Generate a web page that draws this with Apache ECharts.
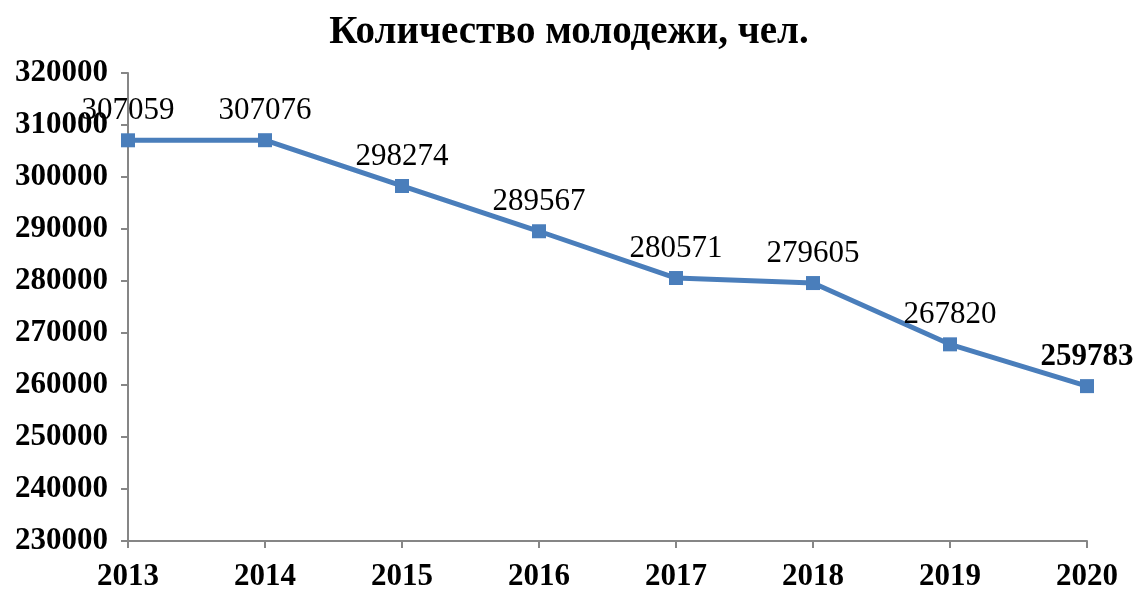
<!DOCTYPE html>
<html><head><meta charset="utf-8">
<script src="https://cdn.jsdelivr.net/npm/echarts@6/dist/echarts.min.js"></script>
<style>html,body{margin:0;padding:0;background:#fff}#c{width:1138px;height:592px}</style>
</head><body><div id="c"></div>
<script>
const years = ['2013','2014','2015','2016','2017','2018','2019','2020'];
const youth = [307059, 307076, 298274, 289567, 280571, 279605, 267820, 259783];
const yMin = 230000, yMax = 320000, yStep = 10000;
const titleText = 'Количество молодежи, чел.';
const serif = '"Liberation Serif", "Times New Roman", serif';
const chart = echarts.init(document.getElementById('c'), null, {renderer:'canvas'});
const lastIdx = youth.length - 1;
chart.setOption({
  animation:false,
  backgroundColor:'#fff',
  title:{text:titleText,left:'center',top:8,textStyle:{fontFamily:serif,fontSize:39,fontWeight:'bold',color:'#000'}},
  grid:{left:128,right:51,top:73,bottom:51,containLabel:false},
  xAxis:{type:'category',data:years,boundaryGap:false,
    axisLine:{lineStyle:{color:'#868686',width:2}},
    axisTick:{show:true,length:7,lineStyle:{color:'#868686',width:2},alignWithLabel:true},
    axisLabel:{fontFamily:serif,fontSize:31,fontWeight:'bold',color:'#000',margin:20}},
  yAxis:{type:'value',min:yMin,max:yMax,interval:yStep,
    axisLine:{show:true,lineStyle:{color:'#868686',width:2}},
    axisTick:{show:true,length:7,lineStyle:{color:'#868686',width:2}},
    splitLine:{show:false},
    axisLabel:{fontFamily:serif,fontSize:31,fontWeight:'bold',color:'#000',margin:20,formatter:v=>String(v)}},
  series:[{type:'line',
    data:youth.map((v,i)=>i===lastIdx?{value:v,label:{fontWeight:'bold'}}:v),
    symbol:'rect',symbolSize:14,
    lineStyle:{color:'#4a7ebb',width:5},
    itemStyle:{color:'#4a7ebb'},
    label:{show:true,position:'top',distance:7,fontFamily:serif,fontSize:31,color:'#000'}}]
});
</script></body></html>
